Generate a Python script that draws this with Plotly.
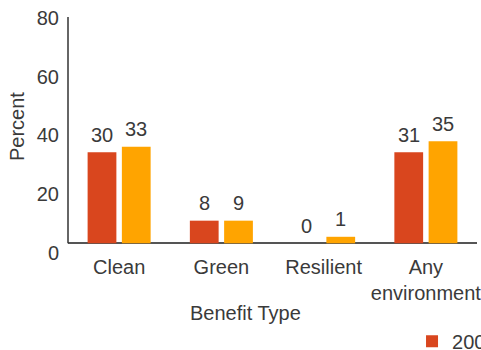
import plotly.graph_objects as go

# ---- data ----
categories = ["Clean", "Green", "Resilient", "Any<br>environment"]
series_names = ["2008", "2018"]
values_a = [32.2, 8.0, 0.0, 32.2]      # bar heights
values_b = [34.1, 8.0, 2.3, 36.1]
labels_a = ["30", "8", "0", "31"]      # printed value labels
labels_b = ["33", "9", "1", "35"]
y_ticks = [0, 20, 40, 60, 80]
colors = ["#D9461E", "#FFA400"]

BARGAP = 0.33
GROUPGAP = 0.16
FONT = dict(family="Liberation Sans, Arial, sans-serif", size=20, color="#3a3a3a")

fig = go.Figure()
for name, vals, col in zip(series_names, [values_a, values_b], colors):
    fig.add_trace(go.Bar(x=categories, y=vals, name=name, marker_color=col,
                         marker_line_width=0, hoverinfo="skip"))

fig.add_trace(go.Scatter(x=[], y=[], yaxis="y2", showlegend=False, hoverinfo="skip"))

slot = (1 - BARGAP) / 2
offsets = [-slot / 2, slot / 2]
for s, (vals, labs) in enumerate([(values_a, labels_a), (values_b, labels_b)]):
    for i, (v, t) in enumerate(zip(vals, labs)):
        fig.add_annotation(x=i + offsets[s], y=v, xref="x", yref="y", text=t,
                           showarrow=False, yanchor="middle", yshift=17.5, font=FONT)

# axis titles
fig.add_annotation(x=0.435, y=-0.254, xref="paper", yref="paper", text="Benefit Type",
                   showarrow=False, xanchor="center", yanchor="middle", font=FONT)
fig.add_annotation(x=-0.1247, y=0.538, xref="paper", yref="paper", text="Percent",
                   textangle=-90, showarrow=False, xanchor="center", yanchor="middle",
                   font=FONT)

# y axis line from 0 to 80
fig.add_shape(type="line", xref="paper", yref="y", x0=0, x1=0, y0=0, y1=80,
              line=dict(color="#333333", width=1.5))

fig.update_layout(
    width=481, height=350,
    margin=dict(l=68, r=4, t=17, b=97, autoexpand=False),
    paper_bgcolor="white", plot_bgcolor="white",
    barmode="group", bargap=BARGAP, bargroupgap=GROUPGAP,
    font=FONT,
    xaxis=dict(showline=False, showgrid=False, ticks="", tickfont=FONT),
    yaxis=dict(range=[-3.43, 80], showgrid=False, showticklabels=False,
               zeroline=True, zerolinecolor="#555555", zerolinewidth=1.5, showline=False),
    yaxis2=dict(overlaying="y", side="left", range=[-0.01, 80.34], tickvals=y_ticks,
                showgrid=False, zeroline=False, showline=False, ticks="",
                ticklabelstandoff=8, tickfont=FONT),
    legend=dict(orientation="h", xref="container", yref="container",
                x=0.8566, y=0.081, xanchor="left", yanchor="top", font=FONT),
    showlegend=True,
)

fig.write_html("out.html")
